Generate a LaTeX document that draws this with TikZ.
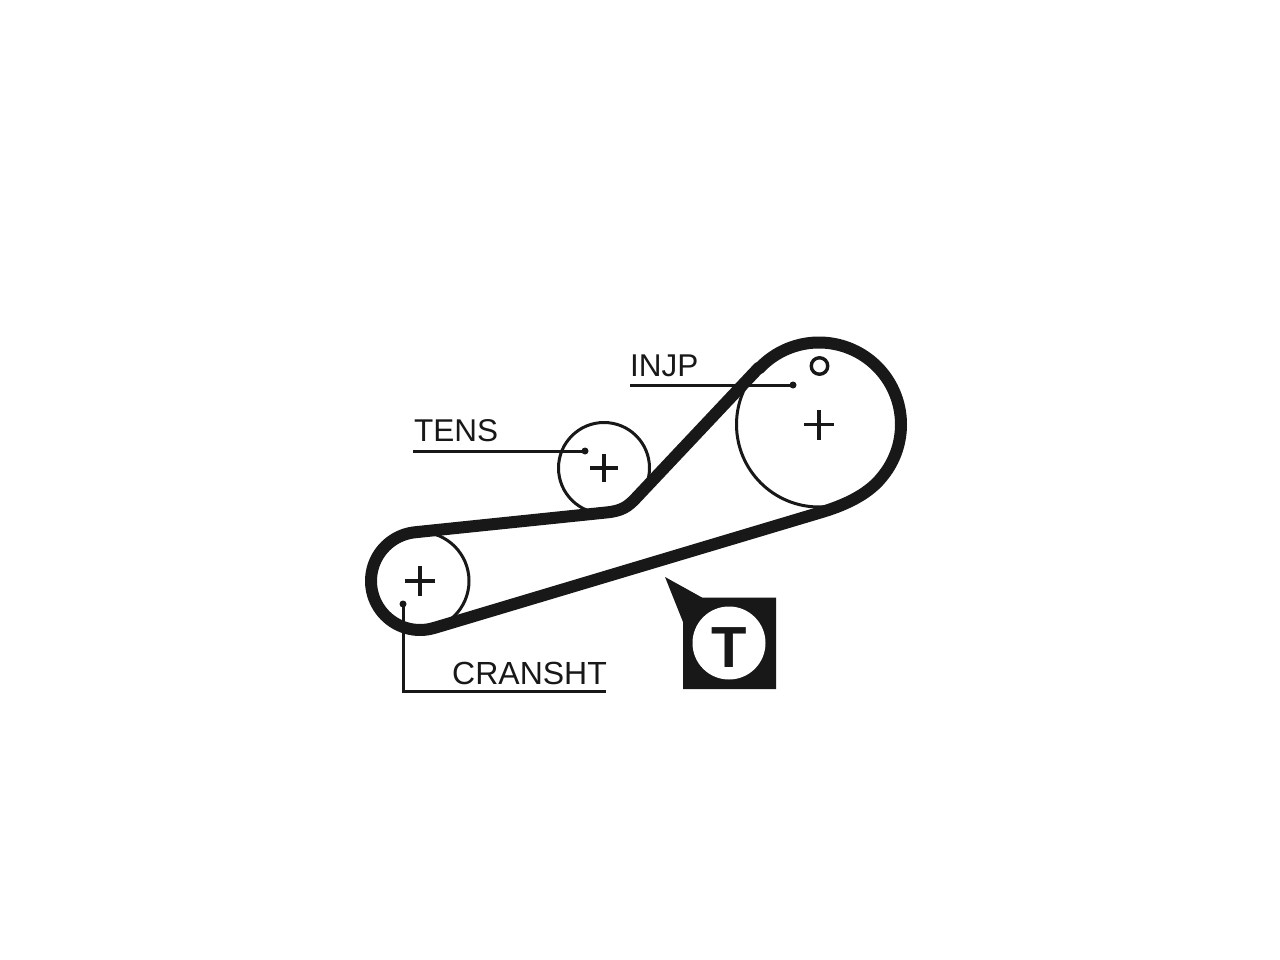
\documentclass[tikz,border=0pt]{standalone}
\usepackage{fontspec}
\setmainfont{Liberation Sans}
\definecolor{ink}{HTML}{181818}
\tikzset{
  pulley/.style={circle,draw=ink,line width=3pt,inner sep=0pt,fill=none},
  belt/.style={draw=ink,line width=12pt,line join=round,line cap=round},
  leader/.style={draw=ink,line width=3pt},
  dot/.style={circle,fill=ink,inner sep=0pt,minimum size=7pt},
  crossmark/.style={draw=ink,line width=3.4pt},
  lbl/.style={anchor=base west,inner sep=0pt,text=ink,font=\fontsize{31.5}{32}\selectfont},
}
\begin{document}
\begin{tikzpicture}[x=1pt,y=-1pt]
\useasboundingbox[fill=white] (0,0) rectangle (1280,960);
% pulleys
\node[pulley,minimum size=98pt] (crank) at (420,581) {};
\node[pulley,minimum size=91pt] (tens) at (604,468) {};
\node[pulley,minimum size=165pt] (cam) at (819,424.5) {};
\node[circle,draw=ink,line width=3.4pt,inner sep=0pt,minimum size=16.5pt] (mark) at (819.5,366) {};
% belt
\draw[belt] plot[domain=73.4:264.4,samples=50] ({420+49*cos(\x)},{581+49*sin(\x)})
  -- (606,512.5) .. controls (622,511) and (628,506.5) .. (636,498)
  -- (759,367.5)
  -- plot[domain=223.1:400,samples=80] ({819+82*cos(\x)},{424.5+82*sin(\x)})
  .. controls (870,492) and (850,503.6) .. (822,512) -- (434,628) -- cycle;
% centre crosses
\foreach \n/\h in {crank/15,tens/14,cam/15}{
  \draw[crossmark] ([xshift=-\h pt]\n.center) -- ([xshift=\h pt]\n.center);
  \draw[crossmark] ([yshift=-\h pt]\n.center) -- ([yshift=\h pt]\n.center);
}
% labels and leaders
\node[lbl] (tlabel) at (414,441) {TENS};
\node[lbl] (ilabel) at (630,376) {INJP};
\node[lbl,font=\fontsize{32}{32}\selectfont] (clabel) at (452,684) {CRANSHT};
\node[dot] (tdot) at (585,451) {};
\node[dot] (idot) at (793,385) {};
\node[dot] (cdot) at (403,604) {};
\coordinate (tend) at (413,451);
\coordinate (iend) at (630,385);
\coordinate (cend) at (606,691.5);
\draw[leader] (tend) -- (tdot.center);
\draw[leader] (iend) -- (idot.center);
\draw[leader] (cend) -| (cdot.center);
% T badge
\fill[ink] (665,577) -- (702,597.5) -- (776,597.5) -- (776,689) -- (683,689) -- (683,622) -- cycle;
\node[circle,fill=white,inner sep=0pt,minimum size=73pt] (badge) at (729,643) {};
\node[anchor=base,inner sep=0pt,text=ink,font=\fontsize{58}{58}\selectfont\bfseries] (tletter) at (729,667) {T};
\end{tikzpicture}
\end{document}
